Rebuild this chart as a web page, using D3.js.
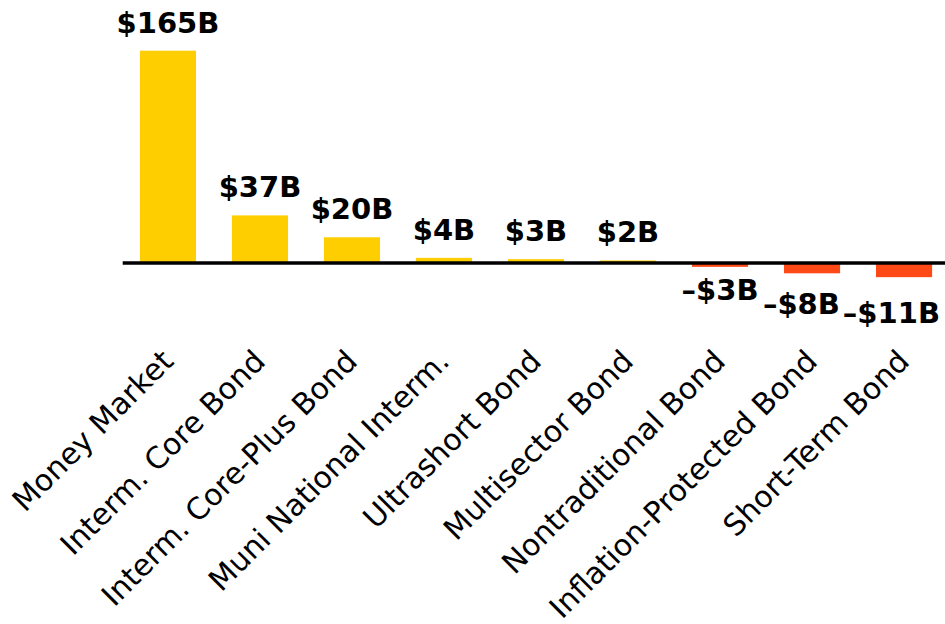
<!DOCTYPE html>
<html>
<head>
<meta charset="utf-8">
<script src="https://cdn.jsdelivr.net/npm/d3@7"></script>
<style>
  body { margin: 0; background: #fff; }
  svg { display: block; }
</style>
</head>
<body>
<div id="chart"></div>
<script>
// Fund categories and net flows (in $ billions)
const categories = [
    "Money Market",
    "Interm. Core Bond",
    "Interm. Core-Plus Bond",
    "Muni National Interm.",
    "Ultrashort Bond",
    "Multisector Bond",
    "Nontraditional Bond",
    "Inflation-Protected Bond",
    "Short-Term Bond"
];
const flows = [165, 37, 20, 4, 3, 2, -3, -8, -11];

const width = 945;
const height = 624;
const font = "'DejaVu Sans', sans-serif";

const svg = d3.select("#chart")
    .append("svg")
    .attr("width", width)
    .attr("height", height);

// Scales
const x = d3.scaleBand()
    .domain(categories)
    .range([104, 968])
    .paddingInner(0.39)
    .paddingOuter(0.39);

const y = d3.scaleLinear()
    .domain([0, 165])
    .range([263, 50.7]);

// labels under negative bars sit a bit further down the bigger the outflow
const negLabelY = d3.scaleLinear()
    .domain([0, -11])
    .range([292, 322.5]);

const fmt = v => (v < 0 ? "\u2013$" : "$") + Math.abs(v) + "B";

// Bars
svg.selectAll(".bar")
    .data(flows)
    .enter()
    .append("rect")
    .attr("class", "bar")
    .attr("x", (d, i) => x(categories[i]))
    .attr("width", x.bandwidth())
    .attr("y", d => Math.min(y(d), y(0)))
    .attr("height", d => Math.abs(y(d) - y(0)))
    .attr("fill", d => d >= 0 ? "#FFCE00" : "#FF4A17");

// Zero line
svg.append("line")
    .attr("x1", 122.7)
    .attr("x2", width)
    .attr("y1", y(0))
    .attr("y2", y(0))
    .attr("stroke", "#000")
    .attr("stroke-width", 3.5);

// Value labels
const valueLabels = svg.selectAll(".value-label")
    .data(flows)
    .enter()
    .append("text")
    .attr("class", "value-label")
    .attr("x", (d, i) => x(categories[i]) + x.bandwidth() / 2)
    .attr("y", d => d >= 0 ? y(d) - 18 : negLabelY(d))
    .attr("text-anchor", "middle")
    .style("font-family", font)
    .style("font-size", "29px")
    .style("font-weight", "bold")
    .style("fill", "#000")
    .text(fmt);

// keep labels inside the frame and off each other (right to left)
const nodes = valueLabels.nodes();
let limit = width - 5;
for (let i = nodes.length - 1; i >= 0; i--) {
    const node = nodes[i];
    const w = node.getComputedTextLength();
    let cx = +node.getAttribute("x");
    if (flows[i] < 0) {
        if (cx + w / 2 > limit) cx = limit - w / 2;
        node.setAttribute("x", cx);
        limit = cx - w / 2 - 3;
    }
}

// Category labels, rotated
svg.selectAll(".cat-label")
    .data(categories)
    .enter()
    .append("text")
    .attr("class", "cat-label")
    .attr("transform", d => `translate(${x(d) + x.bandwidth() / 2 + 7}, 363) rotate(-45)`)
    .attr("text-anchor", "end")
    .style("font-family", font)
    .style("font-size", "30px")
    .style("fill", "#000")
    .text(d => d);
</script>
</body>
</html>
